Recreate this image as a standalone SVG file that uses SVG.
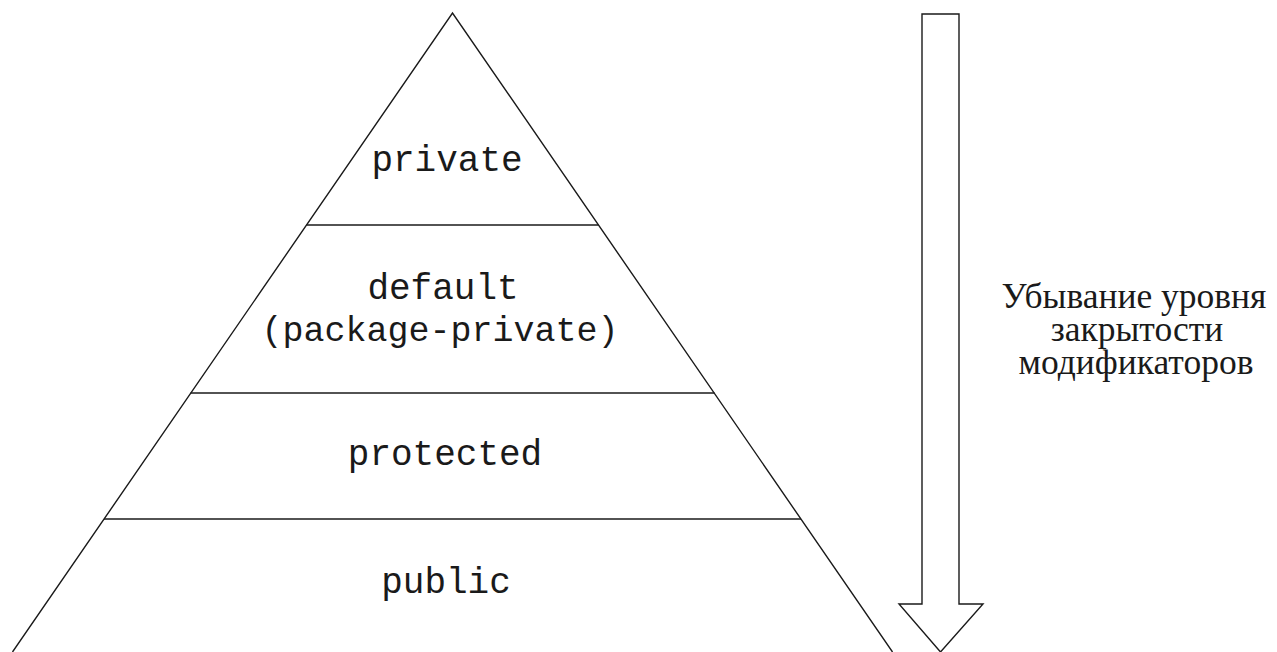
<svg xmlns="http://www.w3.org/2000/svg" width="1277" height="652" viewBox="0 0 1277 652">
  <style>
    .ln { fill: none; stroke: #1a1a1a; stroke-width: 1.4; stroke-linejoin: miter; }
    .mono { font-family: "Liberation Mono", "Courier New", monospace; font-size: 36px; fill: #1a1a1a; text-anchor: middle; }
    .serif { font-family: "Liberation Serif", "Times New Roman", serif; font-size: 35.5px; fill: #1a1a1a; text-anchor: middle; }
  </style>
  <rect width="1277" height="652" fill="#ffffff"/>

  <!-- pyramid outline and tier dividers -->
  <g id="pyramid">
    <polyline class="ln" points="12.5,652 452.5,13 892.5,652"/>
    <line class="ln" x1="306.5" y1="225" x2="598.5" y2="225"/>
    <line class="ln" x1="190.5" y1="393" x2="714.5" y2="393"/>
    <line class="ln" x1="104" y1="519" x2="801" y2="519"/>
  </g>

  <g id="tier-private">
    <text class="mono" x="447" y="171">private</text>
  </g>
  <g id="tier-default">
    <text class="mono" x="443" y="299">default</text>
    <text class="mono" x="440" y="341" style="font-size:35px">(package-private)</text>
  </g>
  <g id="tier-protected">
    <text class="mono" x="445" y="465">protected</text>
  </g>
  <g id="tier-public">
    <text class="mono" x="446" y="593">public</text>
  </g>

  <!-- hollow downward arrow -->
  <g id="connectors">
    <polygon class="ln" points="922,14 959,14 959,604 983,604 940.5,652 899,604 922,604"/>
  </g>

  <g id="caption">
    <text class="serif" x="1134" y="308">Убывание уровня</text>
    <text class="serif" x="1137" y="341">закрытости</text>
    <text class="serif" x="1136" y="374">модификаторов</text>
  </g>
</svg>
